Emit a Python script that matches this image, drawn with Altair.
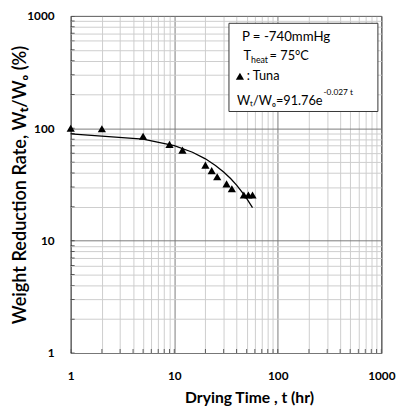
import altair as alt
import pandas as pd

# observed data (Tuna)
t_obs = [1, 2, 5, 9, 12, 20, 23, 26, 32, 36, 47, 52, 57]
w_obs = [100, 99, 85, 72, 64, 47, 42, 37, 32, 29, 25.5, 25.5, 25.5]
# fitted curve
t_fit = [1, 5, 10, 15, 20, 25, 30, 35, 40, 45, 50, 57]
w_fit = [89.3, 80.2, 70.1, 61.2, 53.5, 46.7, 40.8, 35.7, 31.2, 27.2, 23.8, 19.7]
# axis tick values
tick_vals = [1, 2, 3, 4, 5, 6, 7, 8, 9,
             10, 20, 30, 40, 50, 60, 70, 80, 90,
             100, 200, 300, 400, 500, 600, 700, 800, 900, 1000]

W, H = 317, 344
FONT = "Lato"

obs = pd.DataFrame({"t": t_obs, "w": w_obs})
fit = pd.DataFrame({"t": t_fit, "w": w_fit})
ticks = pd.DataFrame({"t": tick_vals, "w": tick_vals})
one = pd.DataFrame({"a": [0]})

xscale = alt.Scale(type="log", domain=[1, 1000], nice=False)
yscale = alt.Scale(type="log", domain=[1, 1000], nice=False)

major = "indexof([1,10,100,1000], datum.value) >= 0"
common = dict(
    values=tick_vals,
    labelExpr=f"{major} ? format(datum.value, 'd') : ''",
    grid=True,
    gridColor={"condition": {"test": major, "value": "#7a7a7a"}, "value": "#cdcdcd"},
    gridWidth=1,
    ticks=False,
    tickSize=0,
    domain=False,
    labelFont=FONT,
    labelFontSize=12,
    labelFontWeight="bold",
    labelColor="black",
    labelOverlap=False,
    labelFlush=False,
    titleFont=FONT,
    titleColor="black",
)

xaxis = alt.Axis(title="Drying Time , t (hr)", labelPadding=18, titleFontSize=16,
                 titleFontWeight="bold",
                 titleX=182, titleY=50, titleBaseline="alphabetic", titleAlign="center",
                 **common)
yaxis = alt.Axis(title="Weight Reduction Rate, Wₜ/Wₒ (%)", labelPadding=17, titleFontSize=18.5,
                 titleFontWeight=600,
                 titleX=-46, titleY=172, titleBaseline="alphabetic", titleAlign="center",
                 **common)

X = alt.X("t:Q", scale=xscale, axis=xaxis)
Y = alt.Y("w:Q", scale=yscale, axis=yaxis)

points = alt.Chart(obs).mark_point(shape="triangle-up", filled=True, color="black",
                                   size=70, opacity=1).encode(x=X, y=Y)

curve = alt.Chart(fit).mark_line(color="black", strokeWidth=1.3).encode(x=X, y=Y)

ytick = alt.Chart(ticks).mark_tick(orient="horizontal", clip=True, size=8, thickness=1,
                                   color="#222").encode(y=Y, x=alt.value(0))
xtick = alt.Chart(ticks).mark_tick(orient="vertical", clip=True, size=8, thickness=1,
                                   color="#222").encode(x=X, y=alt.value(H))

box = alt.Chart(one).mark_rect(fill="white", stroke="#333", strokeWidth=1).encode(
    x=alt.value(161.5), x2=alt.value(313.5), y=alt.value(7.5), y2=alt.value(97.5)
)


def txt(s, x, y, size=13, align="left"):
    return alt.Chart(one).mark_text(align=align, baseline="alphabetic", font=FONT,
                                    fontSize=size, color="black").encode(
        x=alt.value(x), y=alt.value(y), text=alt.value(s))


legend_tri = alt.Chart(one).mark_point(shape="triangle-up", filled=True, color="black",
                                       size=70, opacity=1).encode(
    x=alt.value(172.7), y=alt.value(61.5))

texts = [
    txt("P = -740mmHg", 174.7, 25.3, 13.5),
    txt("T", 176.3, 44.7),
    txt("heat", 184, 48, 9),
    txt("= 75°C", 203, 44.7),
    txt(": Tuna", 179.7, 65.3),
    txt("Wₜ/Wₒ=91.76e", 257, 91, 13, "right"),
    txt("-0.027 t", 258, 80.5, 8.5),
]

chart = alt.layer(xtick, ytick, curve, points, box, legend_tri, *texts).properties(
    width=W, height=H,
    padding={"left": 64, "top": 4, "right": 16, "bottom": 52},
    autosize=alt.AutoSizeParams(type="none"),
    background="white",
).configure_view(stroke="black", strokeWidth=1)

chart.save("out.html", embed_options={"renderer": "svg", "actions": False})
